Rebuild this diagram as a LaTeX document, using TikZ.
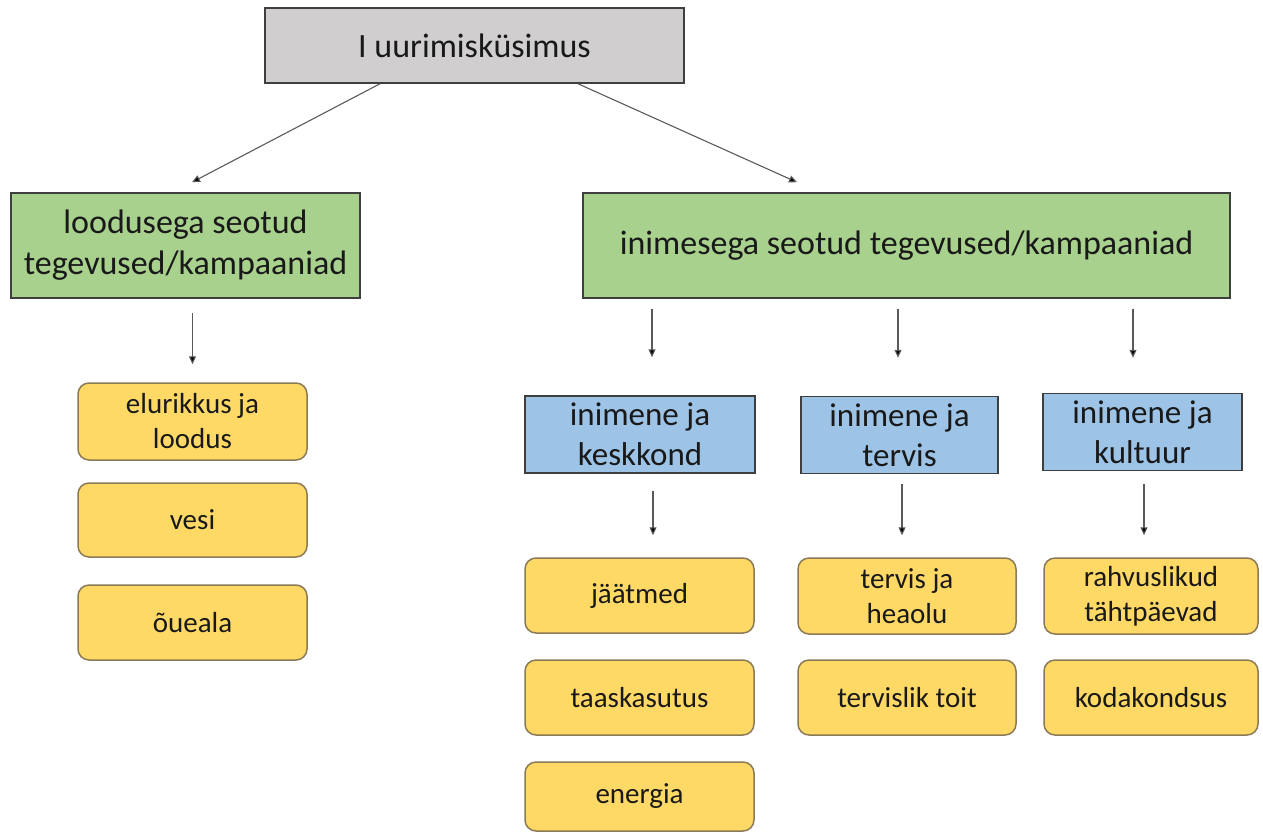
\documentclass[tikz,border=0pt]{standalone}
\usepackage{fontspec}
\setmainfont{Carlito}
\usetikzlibrary{arrows.meta}
\definecolor{boxgray}{HTML}{D0CECE}
\definecolor{boxgreen}{HTML}{A9D18E}
\definecolor{boxblue}{HTML}{9DC3E6}
\definecolor{boxyellow}{HTML}{FFD966}
\definecolor{yborder}{HTML}{8A7A55}
\definecolor{dborder}{HTML}{3F3F3F}
\definecolor{arrgray}{HTML}{5A5A5A}
\tikzset{
  x=1pt, y=1pt,
  base/.style={draw=dborder, line width=1.5pt, align=center, inner sep=0pt, text=black!90},
  topbox/.style={base, fill=boxgray, minimum width=419pt, minimum height=75pt, font=\fontsize{34}{41}\selectfont},
  greenbox/.style={base, fill=boxgreen, minimum height=105pt, font=\fontsize{34}{41}\selectfont},
  bluebox/.style={base, fill=boxblue, minimum height=77pt, font=\fontsize{33}{40}\selectfont},
  yellowbox/.style={base, draw=yborder, fill=boxyellow, rounded corners=11pt, minimum width=229pt, minimum height=75pt, font=\fontsize{29}{35}\selectfont},
  arr/.style={draw=arrgray, line width=1.1pt, -{Triangle[length=8pt,width=7pt,fill=black]}},
}
\begin{document}
\begin{tikzpicture}
\useasboundingbox (0,0) rectangle (1263,-833);
\node[topbox] (top) at (474.5,-45.5) {I uurimisküsimus};
\node[greenbox, minimum width=349pt] (g1) at (185.5,-245.5) {loodusega seotud\\tegevused/kampaaniad};
\node[greenbox, minimum width=647pt] (g2) at (906.5,-245.5) {inimesega seotud tegevused/kampaaniad};

\node[yellowbox, minimum height=77pt] (y1) at (192.5,-421.5) {elurikkus ja\\loodus};
\node[yellowbox, minimum height=74pt] (y2) at (192.5,-520) {vesi};
\node[yellowbox] (y3) at (192.5,-622.5) {õueala};

\node[bluebox, minimum width=230pt] (b1) at (640,-434.5) {inimene ja\\keskkond};
\node[bluebox, minimum width=197pt] (b2) at (899.5,-435) {inimene ja\\tervis};
\node[bluebox, minimum width=199pt] (b3) at (1142.5,-432) {inimene ja\\kultuur};

\node[yellowbox] (k1) at (639.5,-595.5) {jäätmed};
\node[yellowbox] (k2) at (639.5,-697.5) {taaskasutus};
\node[yellowbox, minimum height=69pt] (k3) at (639.5,-796.5) {energia};

\node[yellowbox, minimum width=218pt, minimum height=76pt] (t1) at (907,-596) {tervis ja\\heaolu};
\node[yellowbox, minimum width=218pt] (t2) at (907,-697.5) {tervislik toit};

\node[yellowbox, minimum width=214pt, minimum height=76pt] (c1) at (1151,-596) {rahvuslikud\\tähtpäevad};
\node[yellowbox, minimum width=214pt] (c2) at (1151,-697.5) {kodakondsus};

% connectors
\draw[arr] ([xshift=-94.5pt]top.south) -- ([xshift=6.5pt,yshift=10pt]g1.north);
\draw[arr] ([xshift=103.5pt]top.south) -- ([xshift=-109.5pt,yshift=10pt]g2.north);

\draw[arr] ([yshift=-14pt]g1.south -| y1.north) -- ([yshift=18pt]y1.north);

\draw[arr] ([xshift=-254.5pt,yshift=-10pt]g2.south) -- ([xshift=12pt,yshift=38pt]b1.north);
\draw[arr] ([xshift=-8.5pt,yshift=-10pt]g2.south) -- ([xshift=-1.5pt,yshift=38pt]b2.north);
\draw[arr] ([xshift=226.5pt,yshift=-10pt]g2.south) -- ([xshift=-9.5pt,yshift=35pt]b3.north);

\draw[arr] ([xshift=13pt,yshift=-17pt]b1.south) -- ([xshift=13.5pt,yshift=22pt]k1.north);
\draw[arr] ([xshift=2.5pt,yshift=-10pt]b2.south) -- ([xshift=-5pt,yshift=22pt]t1.north);
\draw[arr] ([xshift=1.5pt,yshift=-13pt]b3.south) -- ([xshift=-7pt,yshift=22pt]c1.north);
\end{tikzpicture}
\end{document}
